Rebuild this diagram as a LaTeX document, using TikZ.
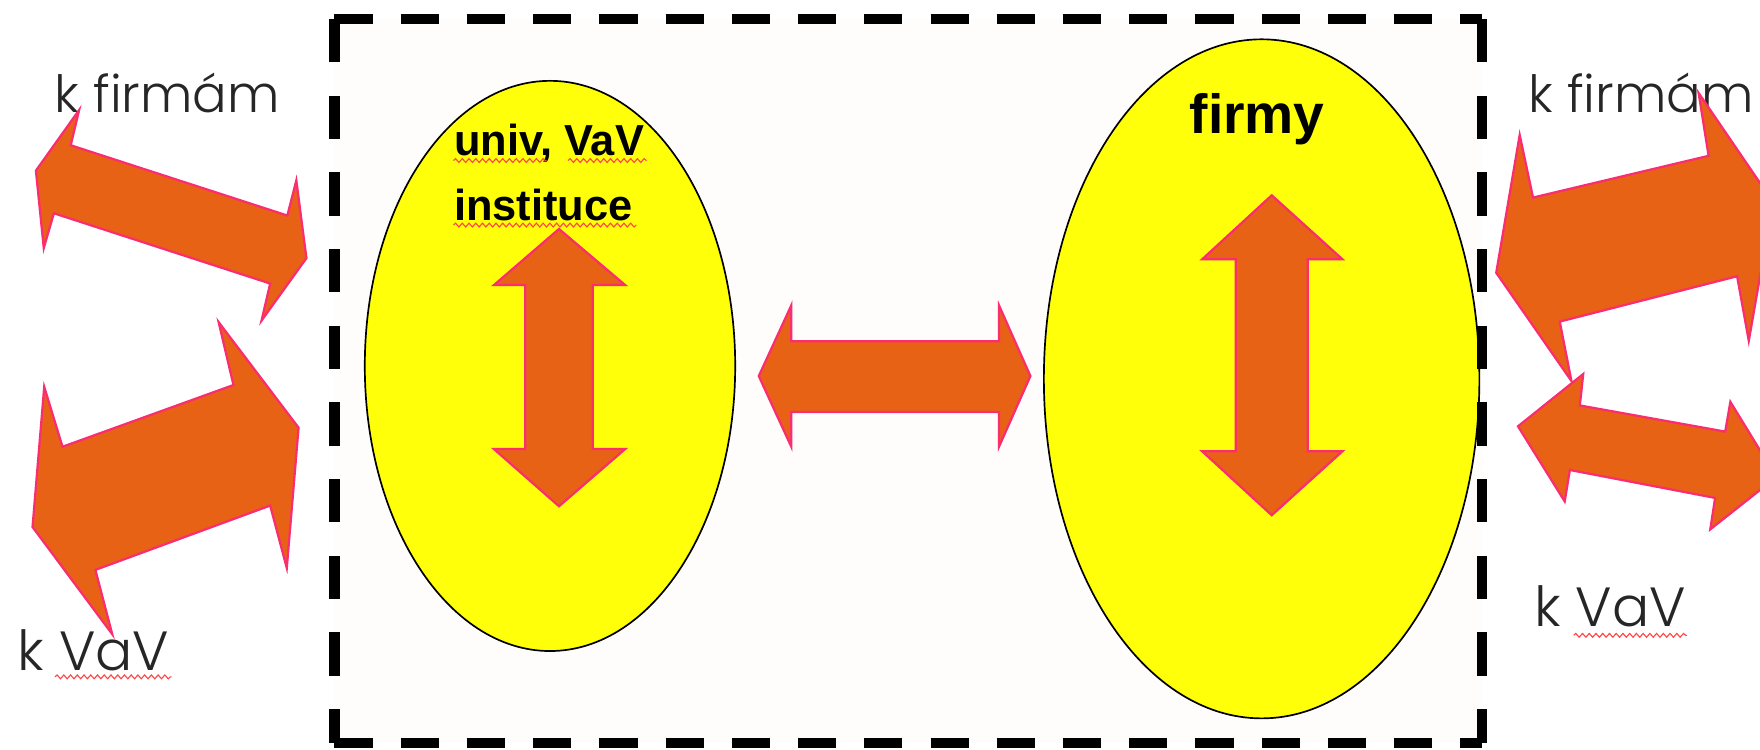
\documentclass[tikz,border=0pt]{standalone}
\usepackage{fontspec}
\setmainfont{Poppins Light}
\newfontfamily\headfont{Liberation Sans}
\usetikzlibrary{shapes.geometric,decorations.pathmorphing}

\definecolor{blobyellow}{RGB}{255,255,10}
\definecolor{arroworange}{RGB}{232,98,22}
\definecolor{arrowrim}{RGB}{250,45,110}
\definecolor{framefill}{RGB}{254,253,251}
\definecolor{spellred}{RGB}{255,70,70}

\begin{document}
\begin{tikzpicture}[x=0.1mm,y=-0.1mm,
    blob/.style={ellipse,draw=black,line width=0.15mm,fill=blobyellow,inner sep=0pt},
    barrow/.style={fill=arroworange,draw=arrowrim,line width=0.2mm,line join=miter},
    lbl/.style={inner sep=0pt,anchor=base west,text=black!85,font=\fontsize{13}{15}\selectfont},
    vavlbl/.style={lbl,font=\fontsize{14}{16}\selectfont},
    hlbl/.style={inner sep=0pt,text=black,font=\headfont\bfseries\fontsize{11}{16.4}\selectfont},
    squiggle/.style={draw=spellred,line width=0.1mm,decorate,
      decoration={snake,amplitude=0.17mm,segment length=0.6mm}},
    framex/.style={line width=0.9mm,dash pattern=on 3.4mm off 2.5mm},
    framey/.style={line width=0.9mm,dash pattern=on 3.86mm off 2.97mm}]
  \useasboundingbox (0,0) rectangle (1568,668);
  \clip (0,0) rectangle (1568,668);

  % frame and the two groups
  \fill[framefill] (298,17) rectangle (1320,662);
  \node[blob,minimum width=33mm,minimum height=50.8mm] (univ) at (490,326) {};
  \node[blob,minimum width=38.8mm,minimum height=60.5mm] (firms) at (1124,337.5) {};
  \draw[framex] (298,17) -- (1320,17);
  \draw[framex] (298,662) -- (1320,662);
  \draw[framey] (298,17) -- (298,662);
  \draw[framey] (1320,17) -- (1320,662);

  % arrows inside the frame
  \draw[barrow] (498,204) -- (557,254) -- (528,254) -- (528,400) -- (557,400)
    -- (498,451) -- (440,400) -- (468,400) -- (468,254) -- (440,254) -- cycle;
  \draw[barrow] (1133,174) -- (1196,231) -- (1165,231) -- (1165,402) -- (1196,402)
    -- (1133,459) -- (1071,402) -- (1101,402) -- (1101,231) -- (1071,231) -- cycle;
  \draw[barrow] (676,335) -- (705,272) -- (705,304) -- (890,304) -- (890,272)
    -- (918,335) -- (890,398) -- (890,367) -- (705,367) -- (705,398) -- cycle;

  % labels
  \node[hlbl,anchor=north west,align=left] (univtext) at (404,110) {univ, VaV\\instituce};
  \node[hlbl,anchor=base,font=\headfont\bfseries\fontsize{14}{16}\selectfont] (firmstext) at (1120,118.5) {firmy};
  \node[lbl] (lfirm) at (48,100) {k firmám};
  \node[lbl] (rfirm) at (1361,100) {k firmám};
  \node[vavlbl] (lvav) at (15,597) {k VaV};
  \node[vavlbl] (rvav) at (1366,558) {k VaV};

  % spelling marks
  \draw[squiggle] (404,143) -- (487,143);
  \draw[squiggle] (506,143) -- (576,143);
  \draw[squiggle] (404,200.5) -- (567,200.5);
  \draw[squiggle] (49,603) -- (153,603);
  \draw[squiggle] (1402,566) -- (1503,566);

  % arrows outside the frame
  \draw[barrow] (32,152) -- (70.5,98) -- (63,129.4) -- (256,192) -- (264,160.7)
    -- (273,230) -- (233,285.6) -- (240.7,252.6) -- (48,190) -- (39,221) -- cycle;
  \draw[barrow] (266,381) -- (255.5,506) -- (240.7,450.4) -- (85,507.7) -- (100,565)
    -- (29,469.5) -- (39.4,344.6) -- (55.7,398) -- (208,343) -- (194.8,287) -- cycle;
  \draw[barrow] (1333,243) -- (1353.9,120.2) -- (1365.8,176) -- (1522.2,138.8) -- (1513.3,82.8)
    -- (1579.6,180) -- (1558,303.6) -- (1547.6,246.1) -- (1389.6,286.5) -- (1400,339.4) -- cycle;
  \draw[barrow] (1352.4,379.8) -- (1410.5,333.2) -- (1407.5,361.2) -- (1537,384.5) -- (1541.6,358)
    -- (1582.6,425) -- (1523.7,471.6) -- (1528,443.6) -- (1398.6,418.7) -- (1394,446.7) -- cycle;
\end{tikzpicture}
\end{document}
